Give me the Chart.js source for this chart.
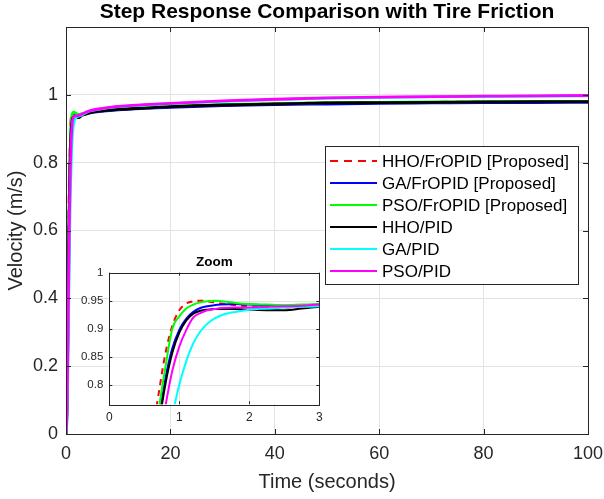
<!DOCTYPE html>
<html>
<head>
<meta charset="utf-8">
<script src="https://cdn.jsdelivr.net/npm/chart.js@4"></script>
<style>
  html, body { margin: 0; padding: 0; background: #fff; }
  #wrap { position: relative; width: 604px; height: 499px; }
  #main { position: absolute; left: 0; top: 0; }
  #zoom { position: absolute; left: 60px; top: 250px; }
</style>
</head>
<body>
<div id="wrap">
  <canvas id="main" width="604" height="499"></canvas>
  <canvas id="zoom" width="270" height="180"></canvas>
</div>
<script>
// time axis shared by every series (seconds)
const timeSec = [0, 0.2, 0.4, 0.6, 0.7, 0.8, 0.9, 1.0, 1.1, 1.2, 1.3, 1.4, 1.5, 1.6, 1.8, 2.0, 2.25, 2.5, 2.75, 3,
                 4, 5, 7, 10, 15, 20, 30, 40, 50, 60, 70, 80, 90, 100];

const hhoFropid = [0, 0.12, 0.42, 0.70, 0.78, 0.855, 0.905, 0.933, 0.945, 0.949, 0.950, 0.949, 0.947, 0.945, 0.942, 0.940, 0.938, 0.938, 0.939, 0.940,
                   0.946, 0.949, 0.953, 0.957, 0.961, 0.965, 0.970, 0.973, 0.976, 0.977, 0.978, 0.979, 0.980, 0.980];
const gaFropid = [0, 0.09, 0.36, 0.64, 0.73, 0.81, 0.865, 0.898, 0.918, 0.930, 0.937, 0.940, 0.942, 0.943, 0.944, 0.943, 0.942, 0.941, 0.942, 0.943,
                  0.945, 0.948, 0.952, 0.956, 0.960, 0.963, 0.968, 0.971, 0.973, 0.975, 0.976, 0.977, 0.977, 0.978];
const psoFropid = [0, 0.10, 0.38, 0.66, 0.75, 0.83, 0.90, 0.922, 0.936, 0.943, 0.947, 0.949, 0.950, 0.949, 0.946, 0.944, 0.943, 0.942, 0.943, 0.944,
                   0.947, 0.950, 0.954, 0.958, 0.962, 0.966, 0.971, 0.974, 0.977, 0.978, 0.979, 0.980, 0.981, 0.981];
const hhoPid = [0, 0.09, 0.35, 0.62, 0.72, 0.80, 0.857, 0.893, 0.915, 0.927, 0.932, 0.934, 0.935, 0.935, 0.935, 0.934, 0.933, 0.933, 0.936, 0.939,
                0.944, 0.949, 0.953, 0.957, 0.961, 0.965, 0.970, 0.973, 0.976, 0.977, 0.978, 0.979, 0.980, 0.980];
const gaPid = [0, 0.05, 0.24, 0.48, 0.59, 0.68, 0.745, 0.80, 0.842, 0.874, 0.895, 0.909, 0.918, 0.924, 0.930, 0.934, 0.936, 0.938, 0.939, 0.940,
               0.949, 0.954, 0.959, 0.965, 0.970, 0.974, 0.981, 0.986, 0.990, 0.992, 0.994, 0.995, 0.996, 0.997];
const psoPid = [0, 0.07, 0.31, 0.57, 0.68, 0.76, 0.825, 0.868, 0.898, 0.920, 0.928, 0.933, 0.935, 0.937, 0.938, 0.938, 0.939, 0.940, 0.941, 0.943,
                0.950, 0.955, 0.960, 0.966, 0.971, 0.975, 0.982, 0.987, 0.991, 0.993, 0.995, 0.996, 0.997, 0.998];

const seriesNames = ["HHO/FrOPID [Proposed]", "GA/FrOPID [Proposed]", "PSO/FrOPID [Proposed]", "HHO/PID", "GA/PID", "PSO/PID"];
const seriesValues = [hhoFropid, gaFropid, psoFropid, hhoPid, gaPid, psoPid];
const seriesColors = ["#ff0000", "#0000ff", "#00ff00", "#000000", "#00ffff", "#ff00ff"];

const mainXTicks = [0, 20, 40, 60, 80, 100];
const mainYTicks = [0, 0.2, 0.4, 0.6, 0.8, 1];
const zoomXTicks = [0, 1, 2, 3];
const zoomYTicks = [0.8, 0.85, 0.9, 0.95, 1];

const FONT = "'Liberation Sans', Arial, sans-serif";
const AXIS = "#262626";

function makeDatasets(width) {
    return seriesNames.map((name, i) => ({
        label: name,
        data: timeSec.map((t, k) => ({ x: t, y: seriesValues[i][k] })),
        borderColor: seriesColors[i],
        borderWidth: width,
        borderDash: i === 0 ? [width * 3, width * 2.5] : [],
        pointRadius: 0,
        cubicInterpolationMode: "monotone",
        order: seriesNames.length - i, // later series drawn on top, like MATLAB
    }));
}

function fixedTicks(list) {
    return (scale) => { scale.ticks = list.map((v) => ({ value: v })); };
}

// MATLAB-ish box: dark frame, inward tick marks on all four sides
const boxPlugin = {
    id: "box",
    beforeDatasetsDraw(chart, args, opts) {
        if (!opts.fill) return;
        const a = chart.chartArea, ctx = chart.ctx;
        ctx.save();
        ctx.fillStyle = "#fff";
        ctx.fillRect(a.left, a.top, a.right - a.left, a.bottom - a.top);
        // redraw the grid on top of the white fill
        ctx.strokeStyle = opts.grid;
        ctx.lineWidth = 1;
        chart.scales.x.ticks.forEach((t) => {
            const px = Math.round(chart.scales.x.getPixelForValue(t.value)) + 0.5;
            ctx.beginPath(); ctx.moveTo(px, a.top); ctx.lineTo(px, a.bottom); ctx.stroke();
        });
        chart.scales.y.ticks.forEach((t) => {
            const py = Math.round(chart.scales.y.getPixelForValue(t.value)) + 0.5;
            ctx.beginPath(); ctx.moveTo(a.left, py); ctx.lineTo(a.right, py); ctx.stroke();
        });
        ctx.restore();
    },
    afterDraw(chart, args, opts) {
        const a = chart.chartArea, ctx = chart.ctx, len = opts.tick || 5;
        ctx.save();
        ctx.strokeStyle = AXIS;
        ctx.lineWidth = 1;
        ctx.strokeRect(Math.round(a.left) + 0.5, Math.round(a.top) + 0.5,
                       Math.round(a.right - a.left), Math.round(a.bottom - a.top));
        ctx.beginPath();
        chart.scales.x.ticks.forEach((t) => {
            const px = Math.round(chart.scales.x.getPixelForValue(t.value)) + 0.5;
            ctx.moveTo(px, a.bottom); ctx.lineTo(px, a.bottom - len);
            ctx.moveTo(px, a.top); ctx.lineTo(px, a.top + len);
        });
        chart.scales.y.ticks.forEach((t) => {
            const py = Math.round(chart.scales.y.getPixelForValue(t.value)) + 0.5;
            ctx.moveTo(a.left, py); ctx.lineTo(a.left + len, py);
            ctx.moveTo(a.right, py); ctx.lineTo(a.right - len, py);
        });
        ctx.stroke();
        ctx.restore();
    },
};

// legend box drawn the way MATLAB places it (inside the axes, right side)
const legendPlugin = {
    id: "matLegend",
    afterDraw(chart, args, opts) {
        if (!opts.show) return;
        const ctx = chart.ctx;
        const x0 = 325, y0 = 146, w = 253, h = 138, row = 22;
        ctx.save();
        ctx.fillStyle = "#fff";
        ctx.fillRect(x0, y0, w, h);
        ctx.strokeStyle = AXIS;
        ctx.lineWidth = 1;
        ctx.strokeRect(x0 + 0.5, y0 + 0.5, w, h);
        ctx.font = "17px " + FONT;
        ctx.textBaseline = "middle";
        chart.data.datasets.forEach((ds, i) => {
            const y = y0 + 15 + i * row;
            ctx.strokeStyle = ds.borderColor;
            ctx.lineWidth = 2;
            ctx.setLineDash(i === 0 ? [8, 6] : []);
            ctx.beginPath(); ctx.moveTo(x0 + 5, y); ctx.lineTo(x0 + 52, y); ctx.stroke();
            ctx.setLineDash([]);
            ctx.fillStyle = "#000";
            ctx.fillText(ds.label, x0 + 57, y + 1);
        });
        ctx.restore();
    },
};

Chart.register(boxPlugin, legendPlugin);

new Chart(document.getElementById("main"), {
    type: "line",
    data: { datasets: makeDatasets(2.8) },
    options: {
        responsive: false,
        animation: false,
        layout: { padding: { left: 0, right: 16, top: 0, bottom: 0 } },
        plugins: {
            legend: { display: false },
            tooltip: { enabled: false },
            title: {
                display: true,
                fullSize: false, // center over the axes, not the whole canvas
                text: "Step Response Comparison with Tire Friction",
                color: "#000",
                font: { family: FONT, size: 21, weight: "bold" },
                padding: { top: 0, bottom: 1.8 },
            },
            box: { tick: 5 },
            matLegend: { show: true },
        },
        scales: {
            x: {
                type: "linear", min: 0, max: 100,
                afterBuildTicks: fixedTicks(mainXTicks),
                afterFit: (s) => { s.height = 65; s.paddingRight = 0; s.paddingLeft = 0; },
                grid: { color: "#e3e3e3", drawTicks: false, tickLength: 0 },
                border: { display: false },
                ticks: { color: AXIS, font: { family: FONT, size: 18 }, padding: 9, maxRotation: 0 },
                title: {
                    display: true, text: "Time (seconds)", color: AXIS,
                    font: { family: FONT, size: 20 }, padding: { top: 0, bottom: 5 },
                },
            },
            y: {
                type: "linear", min: 0, max: 1.2,
                afterBuildTicks: fixedTicks(mainYTicks),
                afterFit: (s) => { s.width = 66; s.paddingTop = 0; s.paddingBottom = 0; },
                grid: { color: "#e3e3e3", drawTicks: false, tickLength: 0 },
                border: { display: false },
                ticks: { color: AXIS, font: { family: FONT, size: 18 }, padding: 8, callback: (v) => String(v) },
                title: {
                    display: true, text: "Velocity (m/s)", color: AXIS,
                    font: { family: FONT, size: 20 }, padding: { top: 4, bottom: 0 },
                },
            },
        },
    },
});

new Chart(document.getElementById("zoom"), {
    type: "line",
    data: { datasets: makeDatasets(2) },
    options: {
        responsive: false,
        animation: false,
        layout: { padding: { left: 0, right: 10.7, top: 0, bottom: 0 } },
        plugins: {
            legend: { display: false },
            tooltip: { enabled: false },
            title: {
                display: true,
                fullSize: false,
                text: "Zoom",
                color: "#000",
                font: { family: FONT, size: 13.5, weight: "bold" },
                padding: { top: 4, bottom: 2.5 },
            },
            box: { tick: 3, fill: true, grid: "#e3e3e3" },
            matLegend: { show: false },
        },
        scales: {
            x: {
                type: "linear", min: 0, max: 3,
                afterBuildTicks: fixedTicks(zoomXTicks),
                afterFit: (s) => { s.height = 25.7; s.paddingRight = 0; s.paddingLeft = 0; },
                grid: { display: false, drawTicks: false },
                border: { display: false },
                ticks: { color: AXIS, font: { family: FONT, size: 12 }, padding: 6, maxRotation: 0 },
            },
            y: {
                type: "linear", min: 0.765, max: 1,
                afterBuildTicks: fixedTicks(zoomYTicks),
                afterFit: (s) => { s.width = 49.3; s.paddingTop = 0; s.paddingBottom = 0; },
                grid: { display: false, drawTicks: false },
                border: { display: false },
                ticks: { color: AXIS, font: { family: FONT, size: 11.5 }, padding: 6, callback: (v) => String(v) },
            },
        },
    },
});
</script>
</body>
</html>
